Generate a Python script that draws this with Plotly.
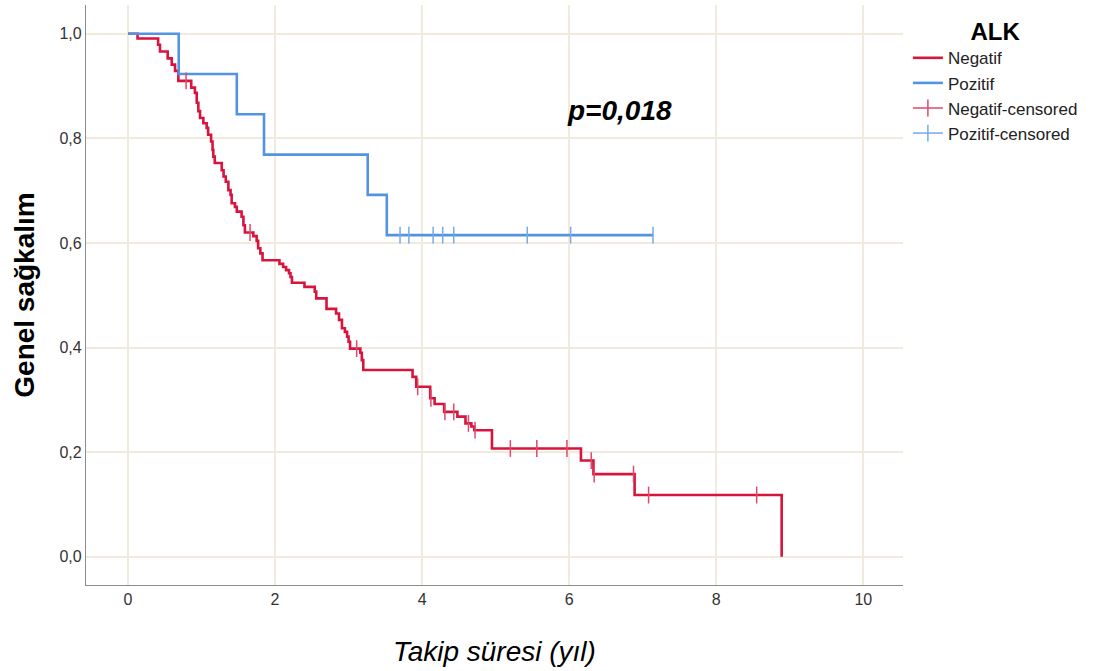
import plotly.graph_objects as go

# ---------------- data ----------------
# ALK Negatif: Kaplan-Meier step points (time of drop, survival after drop)
neg_time = [0, 0.13, 0.41, 0.435, 0.54, 0.595, 0.64, 0.685, 0.86, 0.91,
            0.935, 0.957, 0.98, 1.025, 1.07, 1.09, 1.13, 1.15, 1.16, 1.18,
            1.275, 1.30, 1.33, 1.365, 1.395, 1.41, 1.455, 1.48, 1.545, 1.57,
            1.59, 1.705, 1.75, 1.77, 1.80, 1.83, 2.06, 2.11, 2.15, 2.19,
            2.21, 2.23, 2.40, 2.54, 2.56, 2.70, 2.83, 2.87, 2.91, 2.95,
            2.98, 3.00, 3.02, 3.16, 3.18, 3.20, 3.87, 3.92, 4.11, 4.17,
            4.30, 4.48, 4.59, 4.67, 4.71, 4.95, 6.16, 6.33, 6.89, 8.89]
neg_surv = [1.0, 0.991, 0.979, 0.966, 0.953, 0.941, 0.929, 0.910, 0.897, 0.887,
            0.868, 0.852, 0.839, 0.829, 0.820, 0.807, 0.794, 0.778, 0.765, 0.753,
            0.739, 0.727, 0.717, 0.701, 0.692, 0.676, 0.669, 0.660, 0.650, 0.634,
            0.620, 0.613, 0.604, 0.590, 0.580, 0.567, 0.560, 0.554, 0.548, 0.542,
            0.535, 0.524, 0.516, 0.507, 0.494, 0.474, 0.465, 0.453, 0.437, 0.430,
            0.421, 0.411, 0.398, 0.390, 0.376, 0.357, 0.344, 0.325, 0.303, 0.292,
            0.277, 0.268, 0.255, 0.249, 0.242, 0.207, 0.184, 0.158, 0.118, 0.0]
neg_cens_time = [0.79, 1.66, 3.11, 3.94, 4.12, 4.31, 4.43, 4.63, 4.72, 5.20,
                 5.56, 5.97, 6.30, 6.34, 6.875, 7.08, 8.55]
neg_cens_surv = [0.910, 0.620, 0.398, 0.325, 0.303, 0.277, 0.277, 0.255, 0.242, 0.207,
                 0.207, 0.207, 0.184, 0.158, 0.158, 0.118, 0.118]

# ALK Pozitif
poz_time = [0, 0.69, 1.48, 1.85, 3.26, 3.52, 7.14]
poz_surv = [1.0, 0.923, 0.846, 0.769, 0.692, 0.615, 0.615]
poz_cens_time = [3.70, 3.82, 4.15, 4.28, 4.43, 5.43, 6.02, 7.14]
poz_cens_surv = [0.615, 0.615, 0.615, 0.615, 0.615, 0.615, 0.615, 0.615]

x_ticks = [0, 2, 4, 6, 8, 10]
y_ticks = [0.0, 0.2, 0.4, 0.6, 0.8, 1.0]
y_ticktext = ["0,0", "0,2", "0,4", "0,6", "0,8", "1,0"]

p_text = "p=0,018"
# --------------------------------------------------------------

RED = "#d7143c"
BLUE = "#5293e3"
RED_C = "#e0486c"
BLUE_C = "#74aaea"
FONT = "Liberation Sans, Arial, sans-serif"


def gapped(xs, ys):
    gx, gy = [], []
    for a, b in zip(xs, ys):
        gx += [a, None]
        gy += [b, None]
    return gx, gy


fig = go.Figure()
fig.add_trace(go.Scatter(x=neg_time, y=neg_surv, mode="lines", line_shape="hv",
                         line=dict(color=RED, width=2.6), name="Negatif"))
fig.add_trace(go.Scatter(x=poz_time, y=poz_surv, mode="lines", line_shape="hv",
                         line=dict(color=BLUE, width=2.6), name="Pozitif"))
nx, ny = gapped(neg_cens_time, neg_cens_surv)
fig.add_trace(go.Scatter(x=nx, y=ny, mode="lines+markers", connectgaps=False,
                         line=dict(color=RED_C, width=1.5),
                         marker=dict(symbol="line-ns", size=12,
                                     line=dict(color=RED_C, width=1.5)),
                         name="Negatif-censored"))
px_, py_ = gapped(poz_cens_time, poz_cens_surv)
fig.add_trace(go.Scatter(x=px_, y=py_, mode="lines+markers", connectgaps=False,
                         line=dict(color=BLUE_C, width=1.5),
                         marker=dict(symbol="line-ns", size=12,
                                     line=dict(color=BLUE_C, width=1.5)),
                         name="Pozitif-censored"))

fig.add_annotation(x=6.69, y=0.854, xref="x", yref="y", text="<b><i>" + p_text + "</i></b>",
                   showarrow=False, font=dict(family=FONT, size=28, color="#000"))

fig.update_layout(
    width=1101, height=671,
    margin=dict(l=86, r=198, t=5, b=86),
    paper_bgcolor="white", plot_bgcolor="white",
    font=dict(family=FONT, color="#222"),
    showlegend=True,
    legend=dict(
        title=dict(text="<b>ALK</b>", font=dict(family=FONT, size=24, color="#000"),
                   side="top center"),
        x=1.006, xanchor="left", y=0.993, yanchor="top",
        font=dict(family=FONT, size=17, color="#222"),
        bgcolor="rgba(0,0,0,0)", tracegroupgap=0, itemwidth=30,
    ),
    xaxis=dict(
        range=[-0.571, 10.54], tickvals=x_ticks, ticktext=[str(v) for v in x_ticks],
        showgrid=True, gridcolor="#f0ebdc", gridwidth=1.5, zeroline=False,
        showline=True, linecolor="#8c8c8c", linewidth=1.2, ticks="",
        tickfont=dict(family=FONT, size=16, color="#333"),
        title=dict(text="<i>Takip süresi (yıl)</i>", font=dict(family=FONT, size=28, color="#000"),
                   standoff=34),
    ),
    yaxis=dict(
        range=[-0.054, 1.055], tickvals=y_ticks, ticktext=y_ticktext,
        showgrid=True, gridcolor="#f0ebdc", gridwidth=1.5, zeroline=False,
        showline=True, linecolor="#8c8c8c", linewidth=1.2, ticks="",
        tickfont=dict(family=FONT, size=16, color="#333"),
        automargin=True,
        title=dict(text="<b>Genel sağkalım</b>", font=dict(family=FONT, size=28, color="#000"),
                   standoff=16),
    ),
)

fig.write_html("out.html")
